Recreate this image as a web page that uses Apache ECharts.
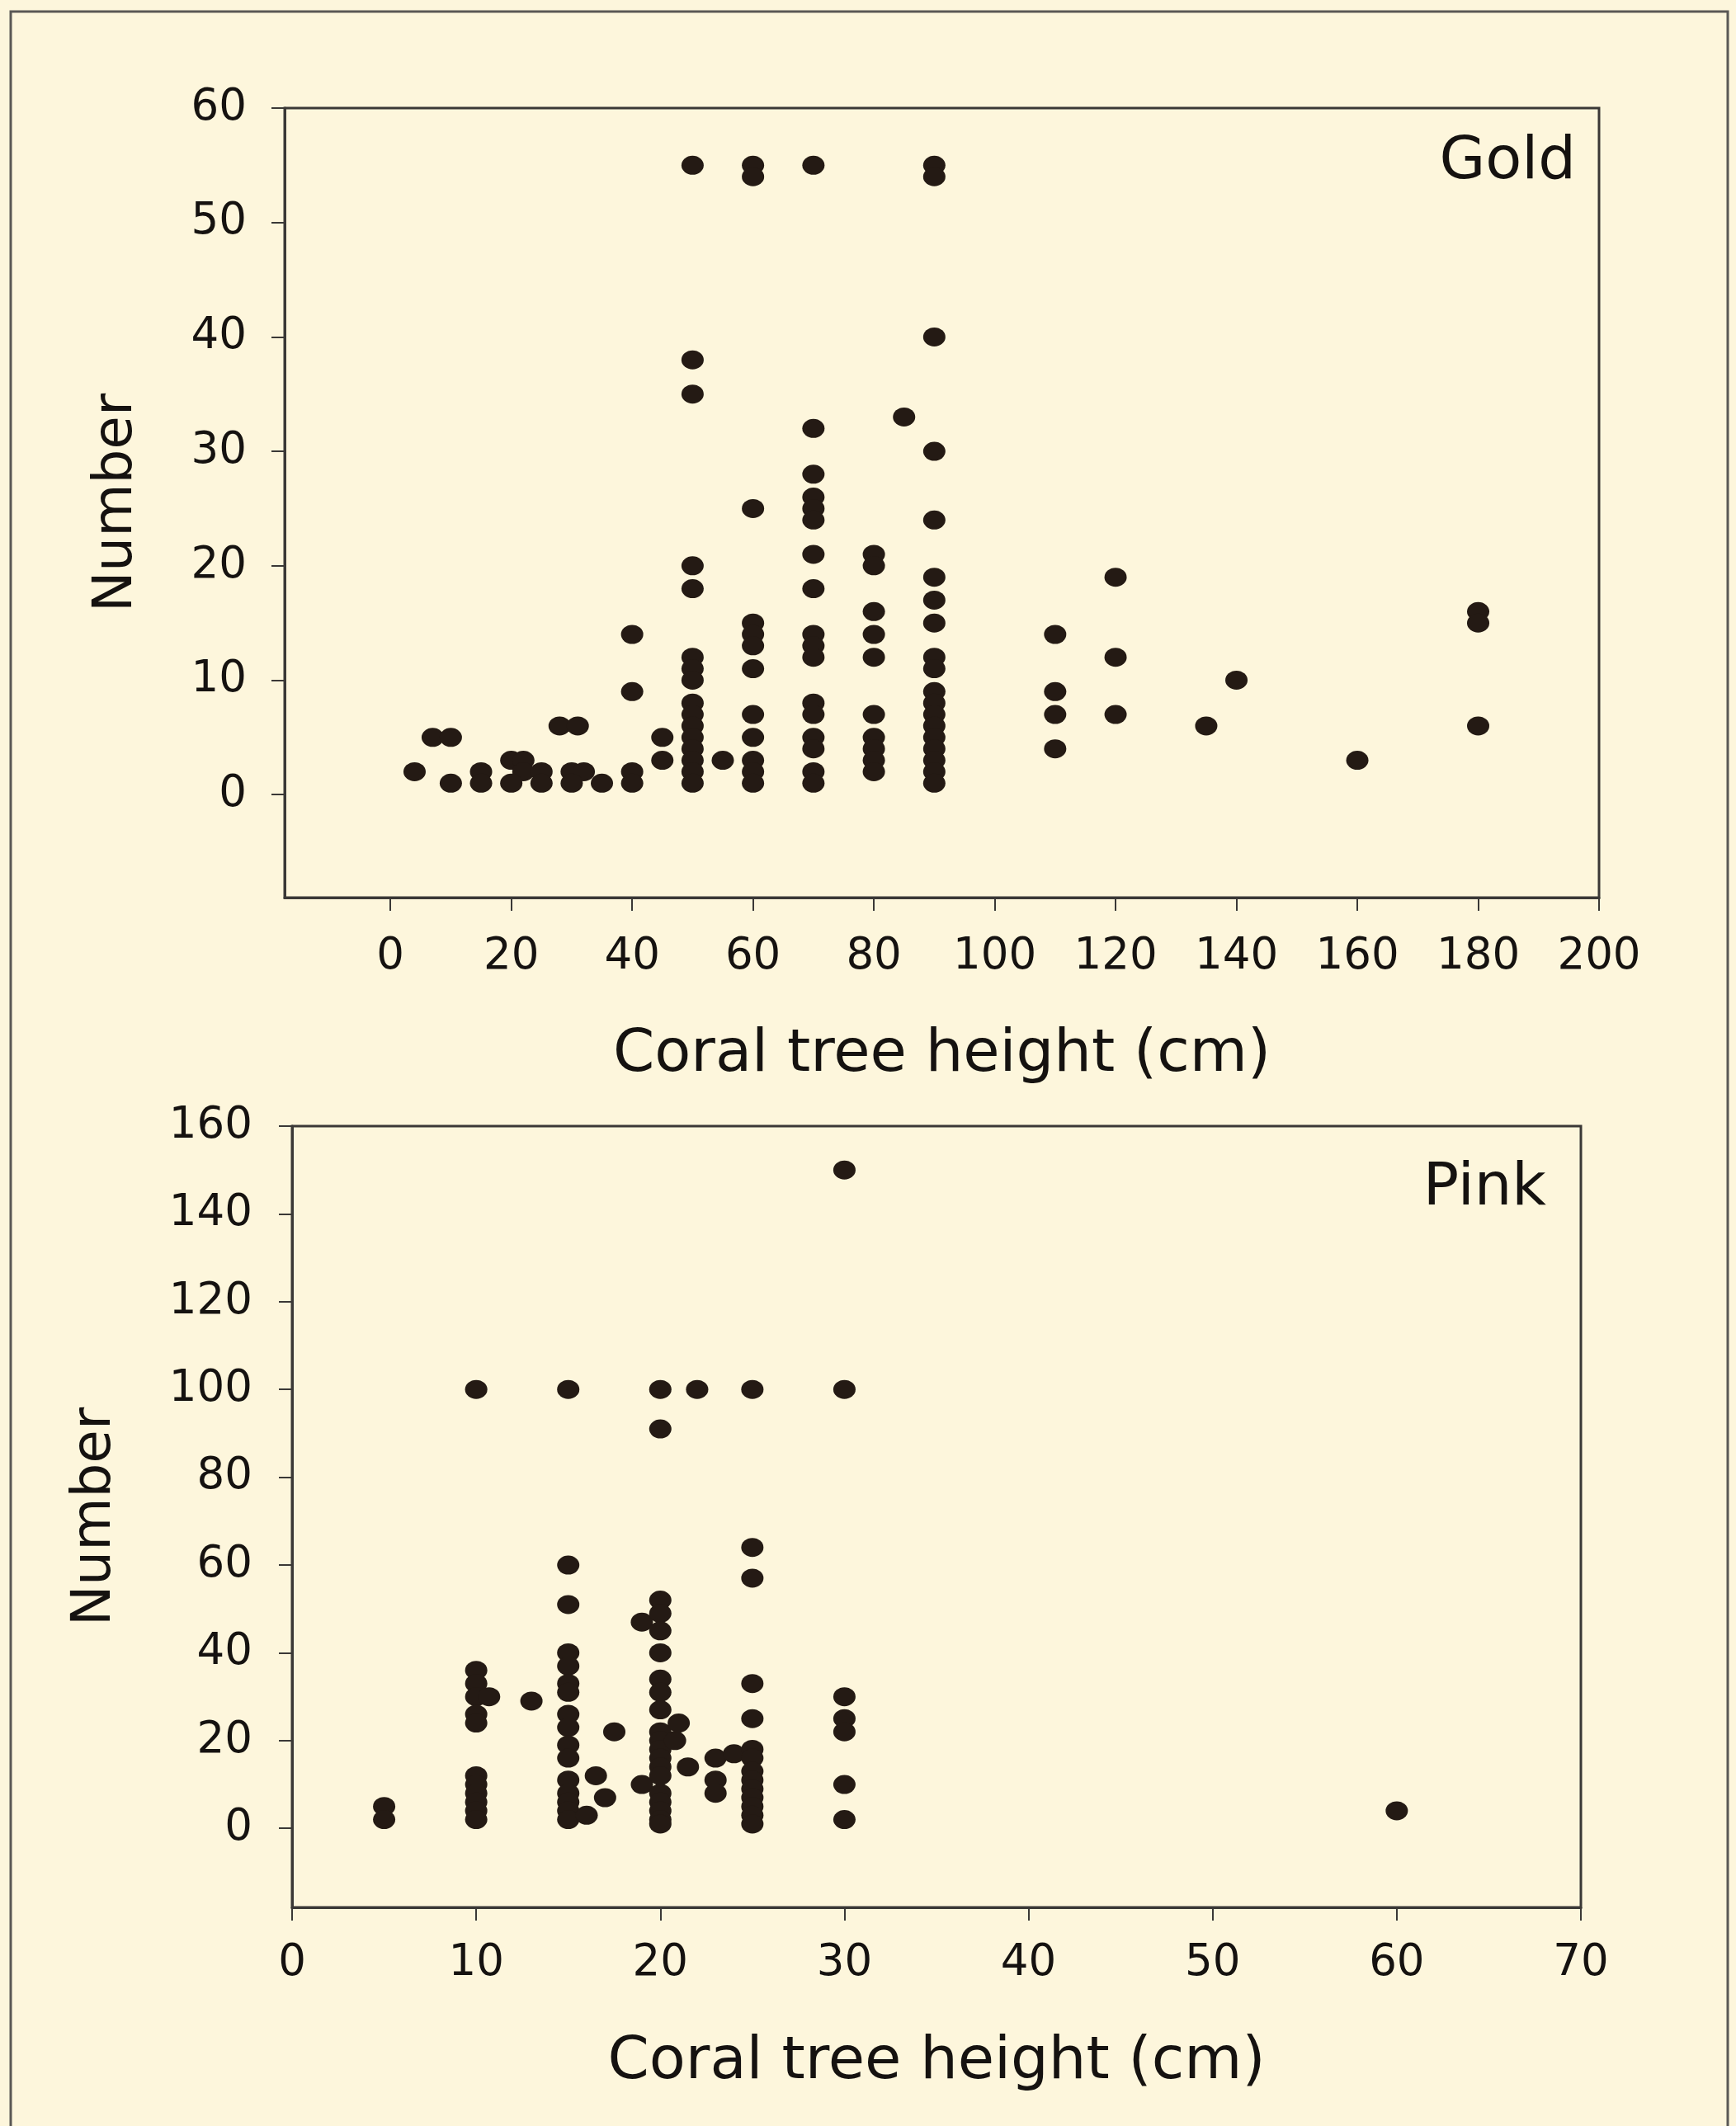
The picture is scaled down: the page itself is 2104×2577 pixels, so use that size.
<!DOCTYPE html>
<html>
<head>
<meta charset="utf-8">
<script src="https://cdn.jsdelivr.net/npm/echarts@6/dist/echarts.min.js"></script>
<style>
  html, body { margin: 0; padding: 0; background: #FDF6DC; }
  #chart { width: 2104px; height: 2577px; }
</style>
</head>
<body>
<div id="chart"></div>
<script>
// ---- Data (height in cm, number) ----
const goldPoints = [
  [4,2],[7,5],[10,5],[10,1],[15,2],[15,1],[20,3],[22,3],[22,2],[20,1],[25,2],[25,1],
  [28,6],[31,6],[30,2],[32,2],[30,1],[35,1],
  [40,14],[40,9],[40,2],[40,1],[45,5],[45,3],
  [50,55],[50,38],[50,35],[50,20],[50,18],[50,12],[50,11],[50,10],[50,8],[50,7],[50,6],[50,5],[50,4],[50,3],[50,2],[50,1],
  [55,3],
  [60,55],[60,54],[60,25],[60,15],[60,14],[60,13],[60,11],[60,7],[60,5],[60,3],[60,2],[60,1],
  [70,55],[70,32],[70,28],[70,26],[70,25],[70,24],[70,21],[70,18],[70,14],[70,13],[70,12],[70,8],[70,7],[70,5],[70,4],[70,2],[70,1],
  [80,21],[80,20],[80,16],[80,14],[80,12],[80,7],[80,5],[80,4],[80,3],[80,2],
  [85,33],
  [90,55],[90,54],[90,40],[90,30],[90,24],[90,19],[90,17],[90,15],[90,12],[90,11],[90,9],[90,8],[90,7],[90,6],[90,5],[90,4],[90,3],[90,2],[90,1],
  [110,14],[110,9],[110,7],[110,4],
  [120,19],[120,12],[120,7],
  [135,6],[140,10],[160,3],
  [180,16],[180,15],[180,6]
];

const pinkPoints = [
  [5,5],[5,2],
  [10,100],[10,36],[10,33],[10,30],[10,26],[10,24],[10,12],[10,10],[10,8],[10,6],[10,4],[10,2],[10.7,30],
  [13,29],
  [15,100],[15,60],[15,51],[15,40],[15,37],[15,33],[15,31],[15,26],[15,23],[15,19],[15,16],[15,11],[15,8],[15,6],[15,4],[15,2],
  [16,3],[16.5,12],[17,7],[17.5,22],
  [19,47],[19,10],
  [20,100],[20,91],[20,52],[20,49],[20,45],[20,40],[20,34],[20,31],[20,27],[20,22],[20,20],[20,18],[20,16],[20,14],[20,12],[20,8],[20,6],[20,4],[20,2],[20,1],
  [20.8,20],[21,24],[21.5,14],[22,100],
  [23,16],[23,11],[23,8],[24,17],
  [25,100],[25,64],[25,57],[25,33],[25,25],[25,18],[25,16],[25,13],[25,11],[25,9],[25,7],[25,5],[25,3],[25,1],
  [30,150],[30,100],[30,30],[30,25],[30,22],[30,10],[30,2],
  [60,4]
];

// ---- Tick labels ----
const goldXTicks = [0,20,40,60,80,100,120,140,160,180,200];
const goldYTicks = [0,10,20,30,40,50,60];
const pinkXTicks = [0,10,20,30,40,50,60,70];
const pinkYTicks = [0,20,40,60,80,100,120,140,160];

const xTitle = 'Coral tree height (cm)';
const yTitle = 'Number';
const panelLabels = ['Gold', 'Pink'];

// ---- Styling ----
const FONT = 'DejaVu Sans';
const INK = '#151210';
const AXIS = '#3a3836';
const DOT = '#241a14';

function makeX(gridIndex, min, max, ticks, nameGap, labelMargin) {
  return {
    type: 'value', gridIndex, min, max, position: 'bottom',
    name: xTitle, nameLocation: 'middle', nameGap,
    nameTextStyle: { fontFamily: FONT, fontSize: 72, color: INK },
    axisLine: { show: true, onZero: false, lineStyle: { color: AXIS, width: 3 } },
    axisTick: { show: true, length: 16, customValues: ticks, lineStyle: { color: AXIS, width: 2 } },
    axisLabel: { customValues: ticks, margin: labelMargin, fontFamily: FONT, fontSize: 53, color: INK },
    splitLine: { show: false }
  };
}
function makeY(gridIndex, min, max, ticks, nameGap, labelMargin) {
  return {
    type: 'value', gridIndex, min, max, position: 'left',
    name: yTitle, nameLocation: 'middle', nameGap,
    nameTextStyle: { fontFamily: FONT, fontSize: 66, color: INK },
    axisLine: { show: true, onZero: false, lineStyle: { color: AXIS, width: 3 } },
    axisTick: { show: true, length: 16, customValues: ticks, lineStyle: { color: AXIS, width: 2 } },
    axisLabel: { customValues: ticks, margin: labelMargin, fontFamily: FONT, fontSize: 53, color: INK },
    splitLine: { show: false }
  };
}

const chart = echarts.init(document.getElementById('chart'), null, { renderer: 'canvas' });
chart.setOption({
  backgroundColor: '#FDF6DC',
  animation: false,
  grid: [
    { left: 345, top: 131, right: 166, bottom: 1489, show: true, borderColor: AXIS, borderWidth: 3, backgroundColor: 'transparent' },
    { left: 354, top: 1365, right: 188, bottom: 265, show: true, borderColor: AXIS, borderWidth: 3, backgroundColor: 'transparent' }
  ],
  xAxis: [
    makeX(0, -17.5, 200, goldXTicks, 155, 46),
    makeX(1, 0, 70, pinkXTicks, 152, 42)
  ],
  yAxis: [
    makeY(0, -9, 60, goldYTicks, 170, 46),
    makeY(1, -18, 160, pinkYTicks, 205, 48)
  ],
  series: [
    { type: 'scatter', xAxisIndex: 0, yAxisIndex: 0, data: goldPoints, symbol: 'circle', symbolSize: [27, 23], itemStyle: { color: DOT, opacity: 1 } },
    { type: 'scatter', xAxisIndex: 1, yAxisIndex: 1, data: pinkPoints, symbol: 'circle', symbolSize: [27, 23], itemStyle: { color: DOT, opacity: 1 } }
  ],
  graphic: [
    { type: 'rect', shape: { x: 13, y: 14, width: 2081, height: 2620 }, style: { fill: 'none', stroke: '#5a5855', lineWidth: 3 }, silent: true },
    { type: 'text', x: 1910, y: 197, style: { text: panelLabels[0], font: '72px "DejaVu Sans"', fill: INK, textAlign: 'right', textVerticalAlign: 'middle' } },
    { type: 'text', x: 1874, y: 1441, style: { text: panelLabels[1], font: '72px "DejaVu Sans"', fill: INK, textAlign: 'right', textVerticalAlign: 'middle' } }
  ]
});
</script>
</body>
</html>
